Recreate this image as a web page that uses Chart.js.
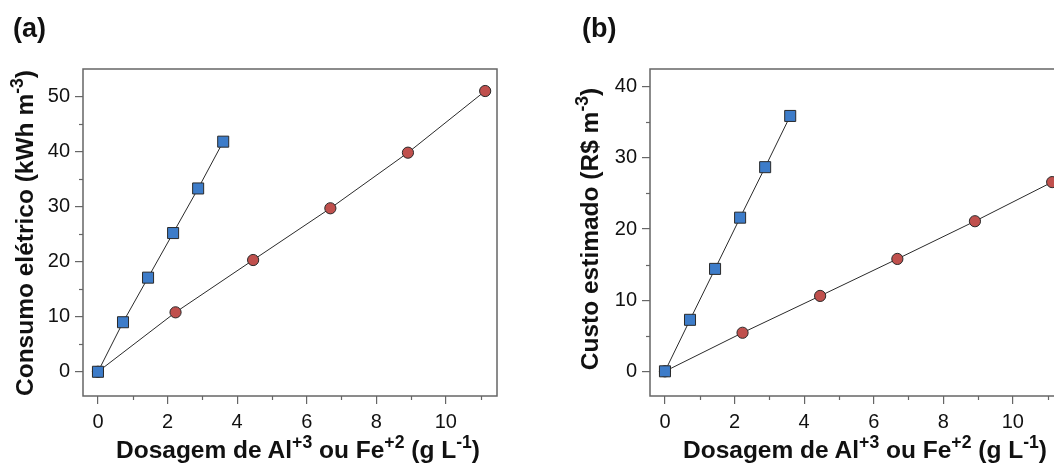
<!DOCTYPE html>
<html>
<head>
<meta charset="utf-8">
<script src="https://cdn.jsdelivr.net/npm/chart.js@4"></script>
<style>
  html, body { margin: 0; padding: 0; background: #fff; overflow: hidden; }
  #wrap { position: relative; width: 1054px; height: 463px; overflow: hidden; background:#fff; }
  .panel { position: absolute; top: 0; width: 520px; height: 463px; }
  .lbl { position: absolute; font-family: "Liberation Sans", Arial, sans-serif; font-weight: bold; color: #111; white-space: nowrap; line-height: 1; }
  .ytitle { transform: translate(-50%, -50%) rotate(-90deg); font-size: 24.5px; }
  .xtitle { transform: translate(-50%, -50%); font-size: 24.5px; }
  .tag { font-size: 27px; }
  sup { font-size: 72%; vertical-align: 0; position: relative; top: -0.55em; }
</style>
</head>
<body>
<div id="wrap">
  <div class="panel" style="left:0px"><canvas id="cA"></canvas></div>
  <div class="panel" style="left:567px"><canvas id="cB"></canvas></div>
  <div class="lbl tag" style="left:13px; top:15px;">(a)</div>
  <div class="lbl tag" style="left:582px; top:15px;">(b)</div>
  <div class="lbl ytitle" style="left:25px; top:233px;">Consumo elétrico (kWh m<sup>-3</sup>)</div>
  <div class="lbl ytitle" style="left:590px; top:229px;">Custo estimado (R$ m<sup>-3</sup>)</div>
  <div class="lbl xtitle" style="left:298px; top:450px;">Dosagem de Al<sup>+3</sup> ou Fe<sup>+2</sup> (g L<sup>-1</sup>)</div>
  <div class="lbl xtitle" style="left:865px; top:450px;">Dosagem de Al<sup>+3</sup> ou Fe<sup>+2</sup> (g L<sup>-1</sup>)</div>
</div>
<script>
// ---- data ----
const xSquares = [0, 0.72, 1.44, 2.16, 2.88, 3.60];
const xCircles = [0, 2.23, 4.46, 6.68, 8.91, 11.13];
const consumoSquares = [0, 9.0, 17.1, 25.2, 33.3, 41.8];
const consumoCircles = [0, 10.8, 20.3, 29.7, 39.8, 51.0];
const custoSquares = [0, 7.24, 14.4, 21.6, 28.7, 35.9];
const custoCircles = [0, 5.42, 10.6, 15.8, 21.1, 26.6];
const xTicks = [0, 2, 4, 6, 8, 10];
const xMinor = [1, 3, 5, 7, 9, 11];
const yTicksA = [0, 10, 20, 30, 40, 50];
const yMinorA = [5, 15, 25, 35, 45];
const yTicksB = [0, 10, 20, 30, 40];
const yMinorB = [5, 15, 25, 35];

const FRAME = '#666666';
const pts = (xs, ys) => xs.map((x, i) => ({ x: x, y: ys[i] }));

const framePlugin = {
  id: 'frameMinor',
  afterDraw(chart) {
    const ctx = chart.ctx, a = chart.chartArea;
    const xs = chart.scales.x, ys = chart.scales.y;
    const o = chart.options.plugins.frameMinor;
    ctx.save();
    ctx.strokeStyle = FRAME;
    ctx.lineWidth = 1.2;
    o.xMinor.forEach(v => {
      const px = Math.round(xs.getPixelForValue(v)) + 0.5;
      if (px > a.right) return;
      ctx.beginPath(); ctx.moveTo(px, a.bottom); ctx.lineTo(px, a.bottom + 4); ctx.stroke();
    });
    o.yMinor.forEach(v => {
      const py = Math.round(ys.getPixelForValue(v)) + 0.5;
      ctx.beginPath(); ctx.moveTo(a.left, py); ctx.lineTo(a.left - 4, py); ctx.stroke();
    });
    ctx.lineWidth = 1.5;
    ctx.strokeRect(a.left, a.top, a.right - a.left, a.bottom - a.top);
    ctx.restore();
  }
};

function makeChart(id, ySq, yCi, yMin, yMax, yTicks, yMinor) {
  return new Chart(document.getElementById(id), {
    type: 'scatter',
    data: {
      datasets: [
        {
          data: pts(xSquares, ySq), showLine: true,
          borderColor: '#2a2a2a', borderWidth: 1,
          pointStyle: 'rect', pointRadius: 7.8, pointHoverRadius: 7.8,
          pointBackgroundColor: '#3d7cc9', pointBorderColor: '#2a2a2a', pointBorderWidth: 1
        },
        {
          data: pts(xCircles, yCi), showLine: true,
          borderColor: '#2a2a2a', borderWidth: 1,
          pointStyle: 'circle', pointRadius: 5.6, pointHoverRadius: 5.6,
          pointBackgroundColor: '#c0504d', pointBorderColor: '#2a2a2a', pointBorderWidth: 1
        }
      ]
    },
    options: {
      responsive: true, maintainAspectRatio: false, animation: false,
      events: [],
      clip: false,
      layout: { padding: { top: 69, right: 23, left: 0, bottom: 0 } },
      plugins: {
        legend: { display: false }, tooltip: { enabled: false }, title: { display: false },
        frameMinor: { xMinor: xMinor, yMinor: yMinor }
      },
      scales: {
        x: {
          type: 'linear', min: -0.43, max: 11.47,
          afterBuildTicks: s => { s.ticks = xTicks.map(v => ({ value: v })); },
          afterFit: s => { s.height = 67; },
          border: { display: false },
          grid: { drawOnChartArea: false, drawTicks: true, tickLength: 8, color: FRAME, tickColor: FRAME, lineWidth: 1.2 },
          ticks: { color: '#111', padding: 6, maxRotation: 0, font: { family: '"Liberation Sans", Arial, sans-serif', size: 20 } }
        },
        y: {
          type: 'linear', min: yMin, max: yMax,
          afterBuildTicks: s => { s.ticks = yTicks.map(v => ({ value: v })); },
          afterFit: s => { s.width = 83; },
          border: { display: false },
          grid: { drawOnChartArea: false, drawTicks: true, tickLength: 8, color: FRAME, tickColor: FRAME, lineWidth: 1.2 },
          ticks: { color: '#111', padding: 5, font: { family: '"Liberation Sans", Arial, sans-serif', size: 20 } }
        }
      }
    },
    plugins: [framePlugin]
  });
}

makeChart('cA', consumoSquares, consumoCircles, -4.4, 55, yTicksA, yMinorA);
makeChart('cB', custoSquares, custoCircles, -3.47, 42.5, yTicksB, yMinorB);
</script>
</body>
</html>
